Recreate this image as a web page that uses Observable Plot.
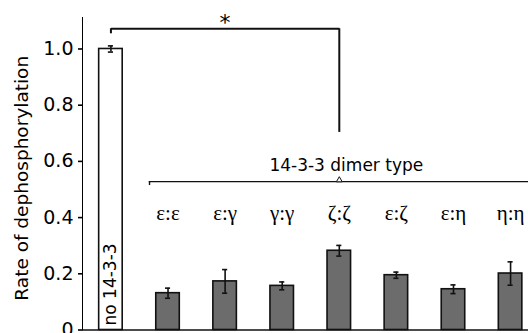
<!DOCTYPE html>
<html>
<head>
<meta charset="utf-8">
<script src="https://cdn.jsdelivr.net/npm/d3@7"></script>
<script src="https://cdn.jsdelivr.net/npm/@observablehq/plot@0.6"></script>
<style>
  html, body { margin: 0; padding: 0; background: white; }
  svg g[aria-label*="y-axis"] path, svg g[aria-label*="y-axis"] line { stroke-width: 1.6px; }
</style>
</head>
<body>
<div id="chart"></div>
<script>
// ---- data ----
const categories = ["no 14-3-3", "ε:ε", "ε:γ", "γ:γ", "ζ:ζ", "ε:ζ", "ε:η", "η:η"];
const rates      = [1.0, 0.131, 0.173, 0.157, 0.282, 0.195, 0.145, 0.201];
const errors     = [0.011, 0.018, 0.042, 0.014, 0.019, 0.011, 0.0155, 0.0415];
const yTicks     = [0, 0.2, 0.4, 0.6, 0.8, 1.0];
const yLabel     = "Rate of dephosphorylation";
const controlLabel = "no 14-3-3";
const groupLabel = "14-3-3 dimer type";
const sigPair    = ["no 14-3-3", "ζ:ζ"];
const sigMark    = "*";
// bracket levels (in data units)
const sigTop = 1.072, sigLeftEnd = 1.054, sigRightEnd = 0.703, sigStarY = 1.091;
const groupLineY = 0.528, groupTickEnd = 0.514, groupTextY = 0.585, labelY = 0.415;

const rows = categories.map((c, i) => ({cat: c, v: rates[i], e: errors[i]}));
const control = rows.slice(0, 1);
const dimers = rows.slice(1);
const dimerCats = categories.slice(1);
const midCat = categories[(categories.indexOf(sigPair[0]) + categories.indexOf(sigPair[1])) / 2];
const groupMid = dimerCats[Math.floor(dimerCats.length / 2)];

const chart = Plot.plot({
  width: 528,
  height: 333,
  marginLeft: 82,
  marginRight: 0,
  marginTop: 17,
  marginBottom: 3.5,
  style: {fontFamily: "DejaVu Sans", fontSize: "19px", color: "black", background: "white", overflow: "visible"},
  x: {type: "band", domain: categories, paddingInner: 0.588, paddingOuter: 0.2, align: 0.73, axis: null, round: false},
  y: {domain: [0, 1.112], ticks: yTicks, tickFormat: d => d === 0 ? "0" : d3.format(".1f")(d), tickSize: 4, tickPadding: 5, line: true, label: null},
  marks: [
    // bars
    Plot.barY(control, {x: "cat", y: "v", fill: "white", stroke: "#111", strokeWidth: 1.6}),
    Plot.barY(dimers, {x: "cat", y: "v", fill: "#6c6c6c", stroke: "#111", strokeWidth: 1.6}),
    // error bars
    Plot.ruleX(rows, {x: "cat", y1: d => d.v - d.e, y2: d => d.v + d.e, stroke: "#111", strokeWidth: 1.6}),
    Plot.tickY(rows, {x: "cat", y: d => d.v - d.e, stroke: "#111", strokeWidth: 1.6, insetLeft: 9.2, insetRight: 9.2}),
    Plot.tickY(rows, {x: "cat", y: d => d.v + d.e, stroke: "#111", strokeWidth: 1.6, insetLeft: 9.2, insetRight: 9.2}),
    // baseline
    Plot.ruleY([0], {stroke: "#111", strokeWidth: 1.6}),
    // y label
    Plot.text([yLabel], {frameAnchor: "left", textAnchor: "middle", rotate: -90, dx: -60.3, dy: 4.5, fontSize: 18.5, fill: "black"}),
    // control label inside bar
    Plot.text(control, {x: "cat", y: 0.016, text: () => controlLabel, rotate: -90, textAnchor: "start", fontSize: 17, fill: "black"}),
    // dimer labels
    Plot.text(dimers, {x: "cat", y: labelY, text: "cat", fontFamily: "Liberation Serif, DejaVu Serif, serif", fontSize: 21, fill: "black"}),
    // group bracket
    Plot.ruleY([groupLineY], {x1: () => dimerCats[0], x2: () => dimerCats[dimerCats.length - 1], insetLeft: -7, insetRight: -7, stroke: "#111", strokeWidth: 1.4}),
    Plot.ruleX([dimerCats[0]], {x: d => d, y1: groupTickEnd, y2: groupLineY, dx: -18.5, stroke: "#111", strokeWidth: 1.4}),
    Plot.dot([groupMid], {x: d => d, y: groupLineY, dy: -1.5, symbol: "triangle", r: 2.2, fill: "white", stroke: "#111", strokeWidth: 1}),
    Plot.text([groupLabel], {x: () => groupMid, y: groupTextY, dx: 7, fontSize: 17, fill: "black"}),
    // significance bracket
    Plot.link([sigPair], {x1: d => d[0], x2: d => d[1], y1: sigTop, y2: sigTop, stroke: "#111", strokeWidth: 2}),
    Plot.ruleX([sigPair[0]], {x: d => d, y1: sigLeftEnd, y2: sigTop, stroke: "#111", strokeWidth: 2}),
    Plot.ruleX([sigPair[1]], {x: d => d, y1: sigRightEnd, y2: sigTop, stroke: "#111", strokeWidth: 2}),
    Plot.text([sigMark], {x: () => midCat, y: sigStarY, fontSize: 22, fill: "black"})
  ]
});
document.getElementById("chart").appendChild(chart);
</script>
</body>
</html>
